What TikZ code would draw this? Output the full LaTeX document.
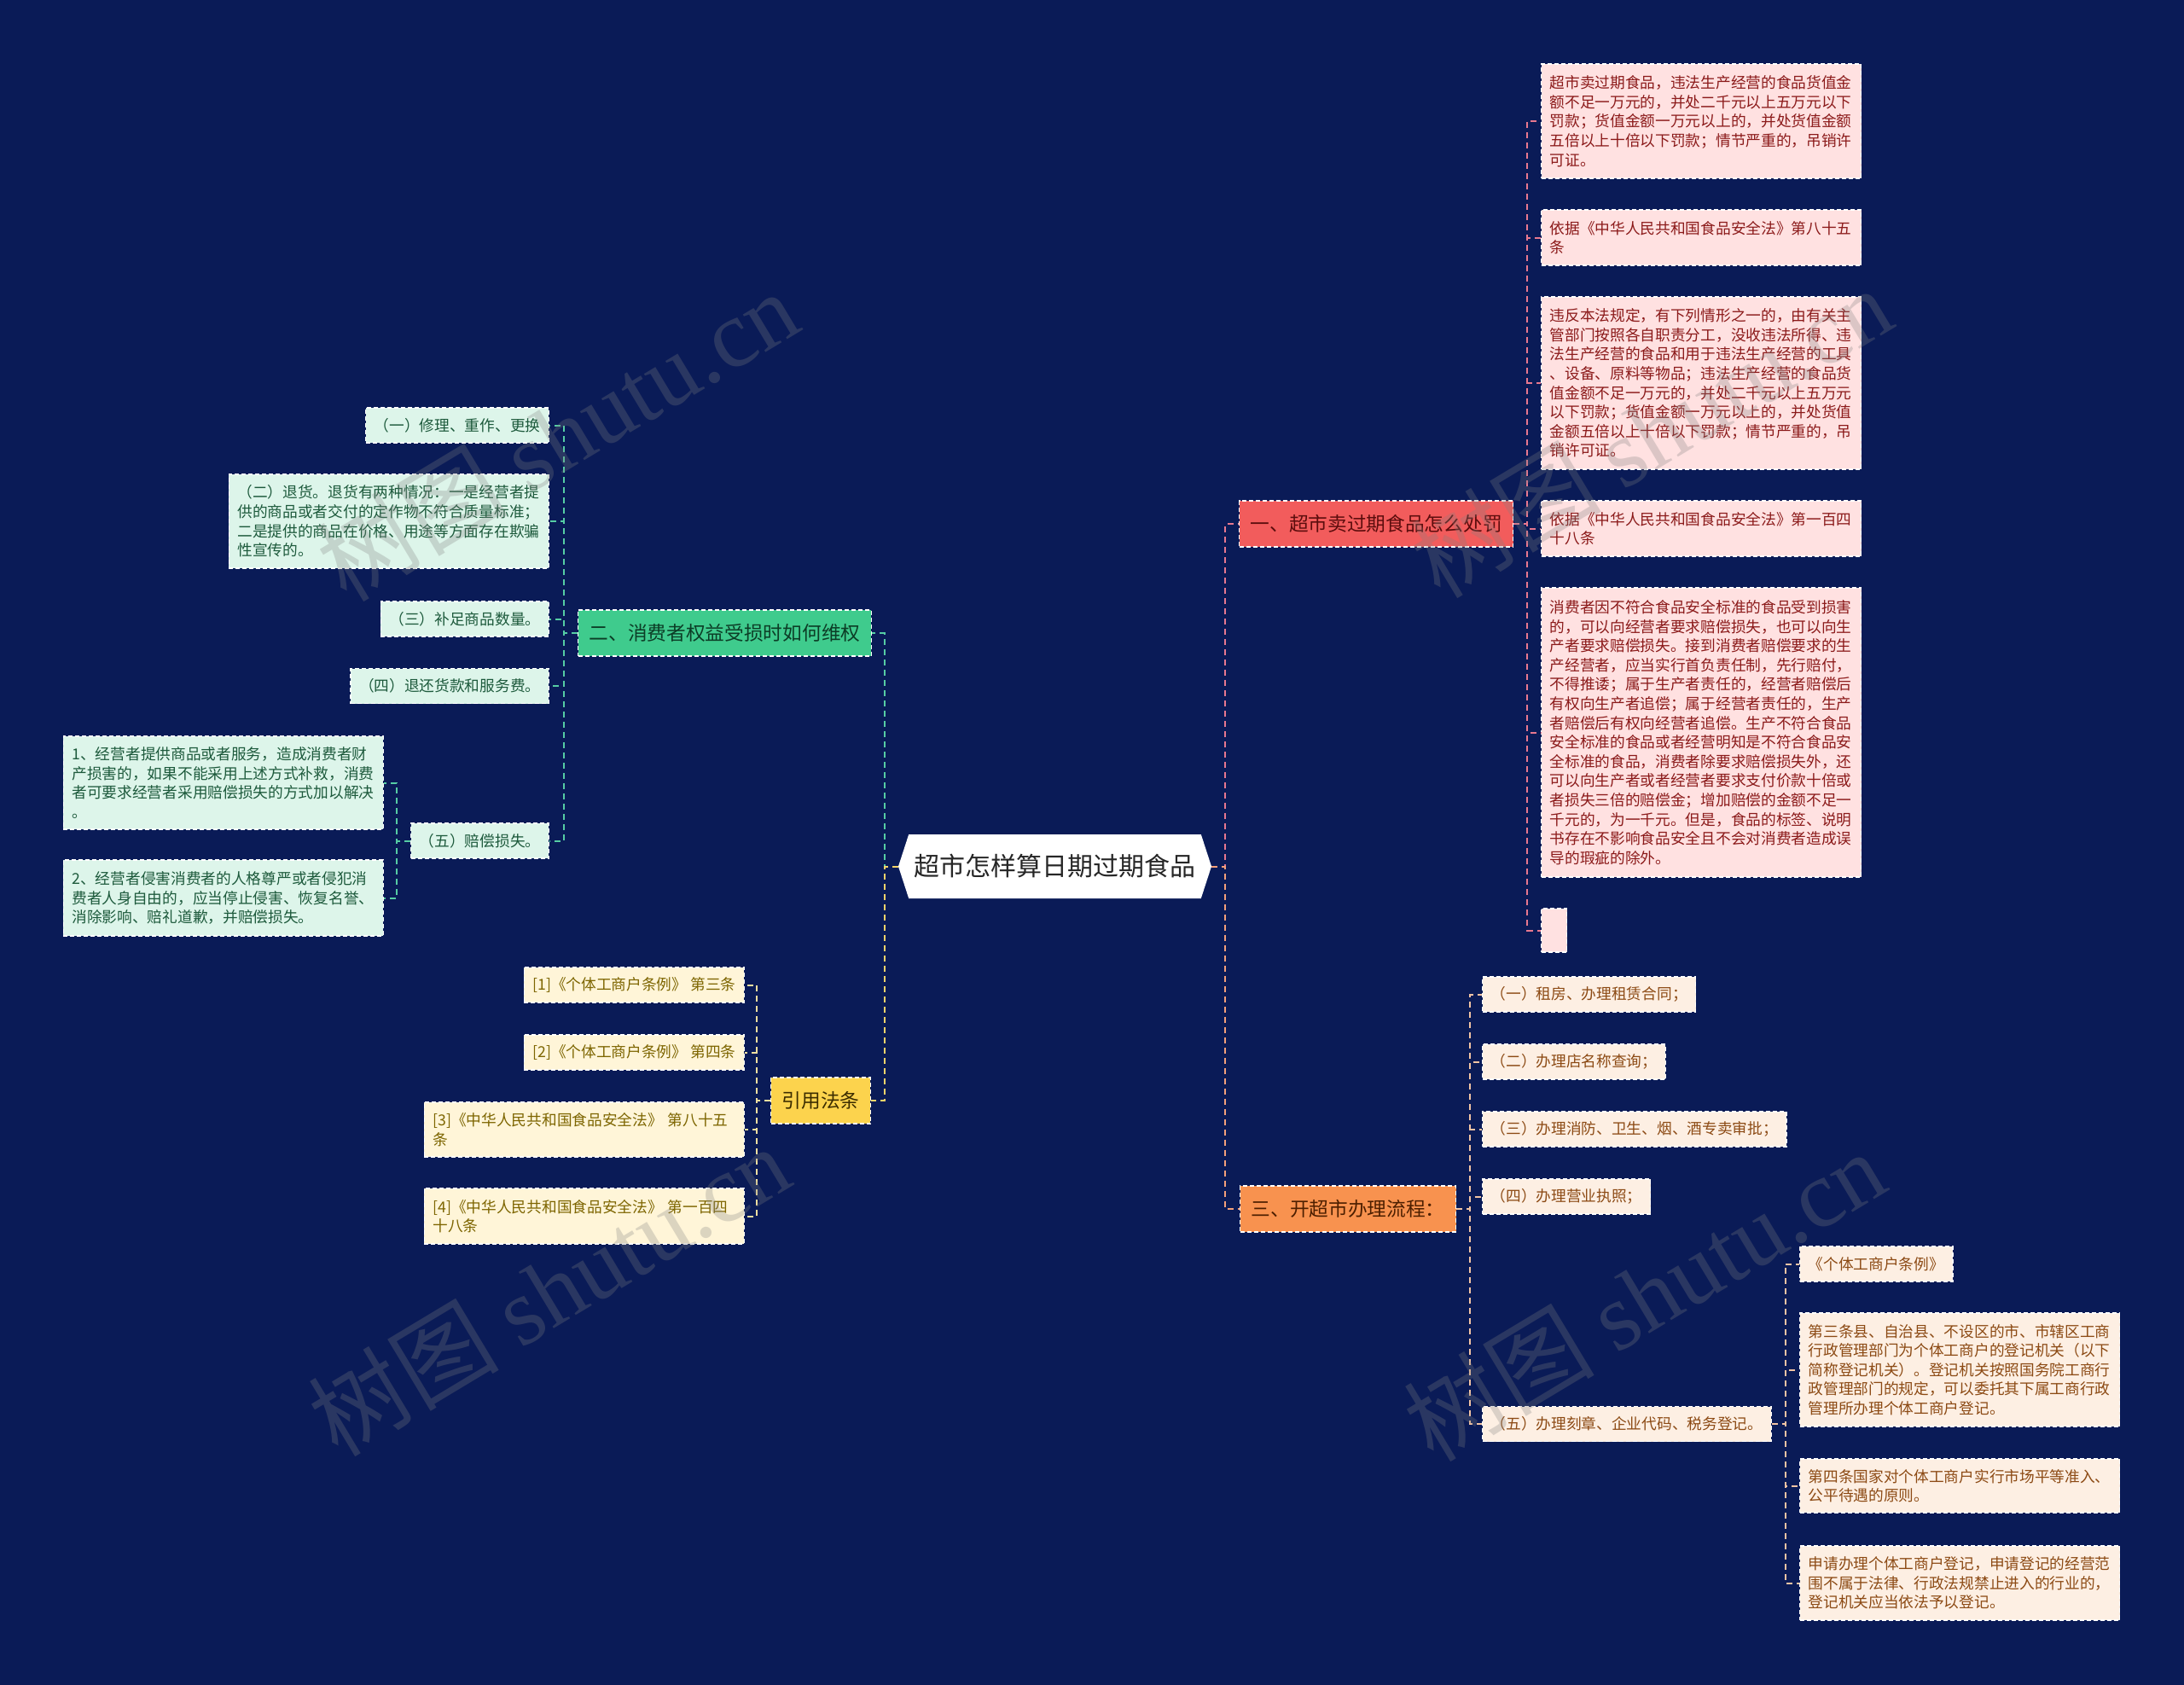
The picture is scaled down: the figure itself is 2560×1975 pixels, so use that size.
\documentclass[tikz,border=0pt]{standalone}
\usepackage{fontspec}
\setmainfont{Noto Sans CJK SC}
\newfontfamily\latinserif{Liberation Serif}
\usepackage{tikz}
\usetikzlibrary{calc}
\usetikzlibrary{shapes}

\definecolor{bgnavy}{HTML}{0A1B57}
\definecolor{redfill}{HTML}{F25C5C}
\definecolor{redtext}{HTML}{5C0D0D}
\definecolor{pinkfill}{HTML}{FFE1E1}
\definecolor{pinktext}{HTML}{8B1A1A}
\definecolor{pinkline}{HTML}{E8788F}
\definecolor{orangefill}{HTML}{F8924F}
\definecolor{orangetext}{HTML}{4D1F00}
\definecolor{orangeline}{HTML}{F4A07A}
\definecolor{peachfill}{HTML}{FDEFE3}
\definecolor{peachtext}{HTML}{8C4A14}
\definecolor{peachline}{HTML}{F2C4A4}
\definecolor{greenfill}{HTML}{3FCB8D}
\definecolor{greentext}{HTML}{0C3D26}
\definecolor{greenline}{HTML}{56CDA4}
\definecolor{mintfill}{HTML}{DDF5EA}
\definecolor{minttext}{HTML}{1D5A3C}
\definecolor{goldfill}{HTML}{FCD34D}
\definecolor{goldtext}{HTML}{3B2C00}
\definecolor{goldline}{HTML}{F4D46A}
\definecolor{creamfill}{HTML}{FFF5D8}
\definecolor{creamtext}{HTML}{7D6500}
\definecolor{creamline}{HTML}{F1DFA0}

\tikzset{
  box/.style={rectangle, draw=white, line width=1.2pt, dash pattern=on 5pt off 3pt},
  branch/.style={box, inner xsep=13pt, inner ysep=0pt, minimum height=54pt, font=\fontsize{22.7}{27}\selectfont},
  leaf/.style={box, inner xsep=10pt, inner ysep=0pt, minimum height=41pt, align=left, font=\fontsize{17.7}{22.6}\selectfont},
  pinkleaf/.style={leaf, fill=pinkfill, text=pinktext},
  peachleaf/.style={leaf, fill=peachfill, text=peachtext},
  mintleaf/.style={leaf, fill=mintfill, text=minttext},
  creamleaf/.style={leaf, fill=creamfill, text=creamtext},
  link/.style={draw=#1, line width=2pt, dash pattern=on 7pt off 5pt},
  elbowr/.style={to path={-- ++(16,0) |- (\tikztotarget)}},
  elbowl/.style={to path={-- ++(-16,0) |- (\tikztotarget)}},
  watermark/.style={rotate=31, text=gray, opacity=0.28, font=\fontsize{112}{112}\selectfont}
}

\begin{document}
\begin{tikzpicture}[x=1pt, y=-1pt]
\useasboundingbox (0,0) rectangle (2560,1975);
\fill[bgnavy] (0,0) rectangle (2560,1975);

\node[name=root, signal, signal to=west and east, signal pointer angle=144, fill=white, text=black!85, minimum width=367pt, minimum height=75pt, inner sep=0pt, font=\fontsize{30}{36}\selectfont] at (1236.5,1015.5) {超市怎样算日期过期食品};

\node[name=branch_1, branch, fill=redfill, text=redtext, anchor=west] at (1452,614) {一、超市卖过期食品怎么处罚};
\node[name=branch_3, branch, fill=orangefill, text=orangetext, anchor=west] at (1453,1417) {三、开超市办理流程：};
\node[name=branch_2, branch, fill=greenfill, text=greentext, anchor=east] at (1022,742) {二、消费者权益受损时如何维权};
\node[name=branch_4, branch, fill=goldfill, text=goldtext, anchor=east] at (1021,1290) {引用法条};

\node[name=leaf_1_1, pinkleaf, text width=355pt, minimum height=134pt, anchor=west] at (1806,142) {超市卖过期食品，违法生产经营的食品货值金\\额不足一万元的，并处二千元以上五万元以下\\罚款；货值金额一万元以上的，并处货值金额\\五倍以上十倍以下罚款；情节严重的，吊销许\\可证。};
\node[name=leaf_1_2, pinkleaf, text width=355pt, minimum height=65pt, anchor=west] at (1806,278.5) {依据《中华人民共和国食品安全法》第八十五\\条};
\node[name=leaf_1_3, pinkleaf, text width=355pt, minimum height=202pt, anchor=west] at (1806,449) {违反本法规定，有下列情形之一的，由有关主\\管部门按照各自职责分工，没收违法所得、违\\法生产经营的食品和用于违法生产经营的工具\\、设备、原料等物品；违法生产经营的食品货\\值金额不足一万元的，并处二千元以上五万元\\以下罚款；货值金额一万元以上的，并处货值\\金额五倍以上十倍以下罚款；情节严重的，吊\\销许可证。};
\node[name=leaf_1_4, pinkleaf, text width=355pt, minimum height=65pt, anchor=west] at (1806,619.5) {依据《中华人民共和国食品安全法》第一百四\\十八条};
\node[name=leaf_1_5, pinkleaf, text width=355pt, minimum height=339pt, anchor=west] at (1806,858.5) {消费者因不符合食品安全标准的食品受到损害\\的，可以向经营者要求赔偿损失，也可以向生\\产者要求赔偿损失。接到消费者赔偿要求的生\\产经营者，应当实行首负责任制，先行赔付，\\不得推诿；属于生产者责任的，经营者赔偿后\\有权向生产者追偿；属于经营者责任的，生产\\者赔偿后有权向经营者追偿。生产不符合食品\\安全标准的食品或者经营明知是不符合食品安\\全标准的食品，消费者除要求赔偿损失外，还\\可以向生产者或者经营者要求支付价款十倍或\\者损失三倍的赔偿金；增加赔偿的金额不足一\\千元的，为一千元。但是，食品的标签、说明\\书存在不影响食品安全且不会对消费者造成误\\导的瑕疵的除外。};
\node[name=leaf_1_6, pinkleaf, inner xsep=0pt, minimum width=30pt, minimum height=51pt, anchor=west] at (1806,1090.5) {};

\node[name=leaf_3_1, peachleaf, anchor=west] at (1737,1165.5) {（一）租房、办理租赁合同；};
\node[name=leaf_3_2, peachleaf, anchor=west] at (1737,1244.5) {（二）办理店名称查询；};
\node[name=leaf_3_3, peachleaf, anchor=west] at (1737,1323.5) {（三）办理消防、卫生、烟、酒专卖审批；};
\node[name=leaf_3_4, peachleaf, anchor=west] at (1737,1402.5) {（四）办理营业执照；};
\node[name=leaf_3_5, peachleaf, anchor=west] at (1737,1669) {（五）办理刻章、企业代码、税务登记。};

\node[name=leaf_3_5_1, peachleaf, anchor=west] at (2109,1481.5) {《个体工商户条例》};
\node[name=leaf_3_5_2, peachleaf, text width=355pt, minimum height=133pt, anchor=west] at (2109,1605.5) {第三条县、自治县、不设区的市、市辖区工商\\行政管理部门为个体工商户的登记机关（以下\\简称登记机关）。登记机关按照国务院工商行\\政管理部门的规定，可以委托其下属工商行政\\管理所办理个体工商户登记。};
\node[name=leaf_3_5_3, peachleaf, text width=355pt, minimum height=63pt, anchor=west] at (2109,1741.5) {第四条国家对个体工商户实行市场平等准入、\\公平待遇的原则。};
\node[name=leaf_3_5_4, peachleaf, text width=355pt, minimum height=87pt, anchor=west] at (2109,1855.5) {申请办理个体工商户登记，申请登记的经营范\\围不属于法律、行政法规禁止进入的行业的，\\登记机关应当依法予以登记。};

\node[name=leaf_2_1, mintleaf, anchor=east] at (644,498.5) {（一）修理、重作、更换};
\node[name=leaf_2_2, mintleaf, text width=355pt, minimum height=110pt, anchor=east] at (644,611) {（二）退货。退货有两种情况：一是经营者提\\供的商品或者交付的定作物不符合质量标准；\\二是提供的商品在价格、用途等方面存在欺骗\\性宣传的。};
\node[name=leaf_2_3, mintleaf, anchor=east] at (644,725.5) {（三）补足商品数量。};
\node[name=leaf_2_4, mintleaf, anchor=east] at (644,804) {（四）退还货款和服务费。};
\node[name=leaf_2_5, mintleaf, anchor=east] at (644,985.5) {（五）赔偿损失。};

\node[name=leaf_2_5_1, mintleaf, text width=355pt, minimum height=109pt, anchor=east] at (450,917.5) {1、经营者提供商品或者服务，造成消费者财\\产损害的，如果不能采用上述方式补救，消费\\者可要求经营者采用赔偿损失的方式加以解决\\。};
\node[name=leaf_2_5_2, mintleaf, text width=355pt, minimum height=89pt, anchor=east] at (450,1052.5) {2、经营者侵害消费者的人格尊严或者侵犯消\\费者人身自由的，应当停止侵害、恢复名誉、\\消除影响、赔礼道歉，并赔偿损失。};

\node[name=leaf_4_1, creamleaf, anchor=east] at (873,1154.5) {[1]《个体工商户条例》 第三条};
\node[name=leaf_4_2, creamleaf, anchor=east] at (873,1233.5) {[2]《个体工商户条例》 第四条};
\node[name=leaf_4_3, creamleaf, text width=355pt, minimum height=64pt, anchor=east] at (873,1324) {[3]《中华人民共和国食品安全法》 第八十五\\条};
\node[name=leaf_4_4, creamleaf, text width=355pt, minimum height=65pt, anchor=east] at (873,1425.5) {[4]《中华人民共和国食品安全法》 第一百四\\十八条};

\draw(root.east) edge[link=pinkline, elbowr](branch_1.west);
\draw(root.east) edge[link=orangeline, elbowr](branch_3.west);
\draw(root.west) edge[link=greenline, elbowl](branch_2.east);
\draw(root.west) edge[link=goldline, elbowl](branch_4.east);

\draw(branch_1.east) edge[link=pinkline, elbowr](leaf_1_1.west);
\draw(branch_1.east) edge[link=pinkline, elbowr](leaf_1_2.west);
\draw(branch_1.east) edge[link=pinkline, elbowr](leaf_1_3.west);
\draw(branch_1.east) edge[link=pinkline, elbowr](leaf_1_4.west);
\draw(branch_1.east) edge[link=pinkline, elbowr](leaf_1_5.west);
\draw(branch_1.east) edge[link=pinkline, elbowr](leaf_1_6.west);

\draw(branch_3.east) edge[link=peachline, elbowr](leaf_3_1.west);
\draw(branch_3.east) edge[link=peachline, elbowr](leaf_3_2.west);
\draw(branch_3.east) edge[link=peachline, elbowr](leaf_3_3.west);
\draw(branch_3.east) edge[link=peachline, elbowr](leaf_3_4.west);
\draw(branch_3.east) edge[link=peachline, elbowr](leaf_3_5.west);

\draw(leaf_3_5.east) edge[link=peachline, elbowr](leaf_3_5_1.west);
\draw(leaf_3_5.east) edge[link=peachline, elbowr](leaf_3_5_2.west);
\draw(leaf_3_5.east) edge[link=peachline, elbowr](leaf_3_5_3.west);
\draw(leaf_3_5.east) edge[link=peachline, elbowr](leaf_3_5_4.west);

\draw(branch_2.west) edge[link=greenline, elbowl](leaf_2_1.east);
\draw(branch_2.west) edge[link=greenline, elbowl](leaf_2_2.east);
\draw(branch_2.west) edge[link=greenline, elbowl](leaf_2_3.east);
\draw(branch_2.west) edge[link=greenline, elbowl](leaf_2_4.east);
\draw(branch_2.west) edge[link=greenline, elbowl](leaf_2_5.east);

\draw(leaf_2_5.west) edge[link=greenline, elbowl](leaf_2_5_1.east);
\draw(leaf_2_5.west) edge[link=greenline, elbowl](leaf_2_5_2.east);

\draw(branch_4.west) edge[link=creamline, elbowl](leaf_4_1.east);
\draw(branch_4.west) edge[link=creamline, elbowl](leaf_4_2.east);
\draw(branch_4.west) edge[link=creamline, elbowl](leaf_4_3.east);
\draw(branch_4.west) edge[link=creamline, elbowl](leaf_4_4.east);

\node[name=mark_1, watermark] at (653,510) {树图 {\latinserif shutu.cn}};
\node[name=mark_2, watermark] at (1935,506) {树图 {\latinserif shutu.cn}};
\node[name=mark_3, watermark] at (643,1512) {树图 {\latinserif shutu.cn}};
\node[name=mark_4, watermark] at (1927,1518) {树图 {\latinserif shutu.cn}};
\end{tikzpicture}
\end{document}
